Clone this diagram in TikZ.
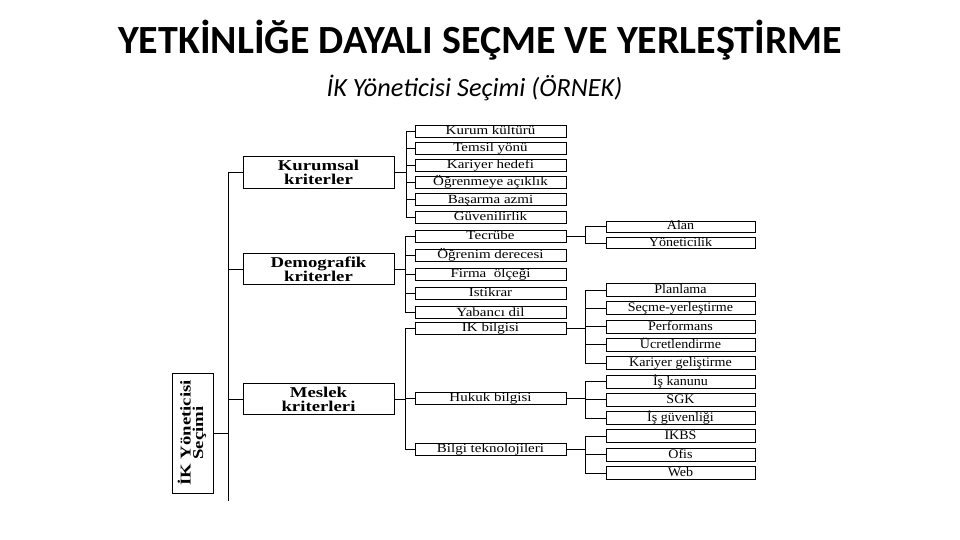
\documentclass[tikz,border=0pt]{standalone}
\usepackage{fontspec}
\setmainfont{Carlito}
\newfontfamily\diagfont[FakeStretch=1.25]{Liberation Serif}
\newfontfamily\itemfont[FakeStretch=1.2]{Liberation Serif}
\newfontfamily\subfont[FakeStretch=1.08]{Liberation Serif}
\usepackage{graphicx}
\usetikzlibrary{positioning}
\tikzset{
  rootbox/.style={
    draw=black, line width=1pt,
    minimum width=41pt, minimum height=120pt, inner sep=0pt,
    font=\diagfont\bfseries\fontsize{15}{14}\selectfont
  },
  catbox/.style={
    draw=black, line width=1pt,
    minimum width=151pt, minimum height=31pt, inner sep=0pt,
    align=center, font=\diagfont\bfseries\fontsize{15}{14}\selectfont
  },
  itembox/.style={
    draw=black, line width=0.9pt,
    minimum width=151pt, minimum height=12pt, inner sep=0pt,
    text height=9.4pt, text depth=2.6pt,
    font=\itemfont\fontsize{12.5}{13}\selectfont
  },
  subbox/.style={
    itembox, minimum width=149pt, minimum height=13pt,
    text height=10pt, text depth=3pt,
    font=\subfont\fontsize{13}{13}\selectfont
  },
  link/.style={draw=black, line width=0.9pt}
}

\begin{document}
\begin{tikzpicture}[x=1pt, y=-1pt]
  \useasboundingbox (0,0) rectangle (960,540);

  %% ---- Titles ----
  \node (title) at (480,40)
    {\bfseries\fontsize{40}{42}\selectfont YETKİNLİĞE DAYALI SEÇME VE YERLEŞTİRME};
  \node (subtitle) at (474.5,88)
    {\itshape\fontsize{26.3}{28}\selectfont İK Yöneticisi Seçimi (ÖRNEK)};

  %% ---- Root ----
  \node[rootbox] (root) at (192.5,433)
    {\rotatebox{90}{\begin{tabular}{@{}c@{}}İK Yöneticisi\\[-2pt]Seçimi\end{tabular}}};

  %% ---- Criteria ----
  \node[catbox] (kur) at (318.5,172.5) {Kurumsal\\kriterler};
  \node[catbox] (dem) at (318.5,269) {Demografik\\kriterler};
  \node[catbox] (mes) at (318.5,399) {Meslek\\kriterleri};

  %% ---- Kurumsal items ----
  \node[itembox] (k1) at (490.5,131) {Kurum kültürü};
  \node[itembox, below=4.3pt of k1] (k2) {Temsil yönü};
  \node[itembox, below=4.3pt of k2] (k3) {Kariyer hedefi};
  \node[itembox, below=4.3pt of k3] (k4) {Öğrenmeye açıklık};
  \node[itembox, below=4.3pt of k4] (k5) {Başarma azmi};
  \node[itembox, below=4.3pt of k5] (k6) {Güvenilirlik};

  %% ---- Demografik items ----
  \node[itembox] (d1) at (490.5,236) {Tecrübe};
  \node[itembox, below=6.25pt of d1] (d2) {Öğrenim derecesi};
  \node[itembox, below=6.25pt of d2] (d3) {Firma\ \ ölçeği};
  \node[itembox, below=6.25pt of d3] (d4) {Istikrar};
  \node[itembox, below=6.25pt of d4] (d5) {Yabancı dil};

  %% ---- Meslek items ----
  \node[itembox] (m1) at (490.5,328) {IK bilgisi};
  \node[itembox] (m2) at (490.5,398) {Hukuk bilgisi};
  \node[itembox] (m3) at (490.5,449) {Bilgi teknolojileri};

  %% ---- Tecrube details ----
  \node[subbox, minimum height=11pt, text height=8.6pt, text depth=2.4pt] (t1) at (680.5,226.5) {Alan};
  \node[subbox, minimum height=11pt, text height=8.6pt, text depth=2.4pt, below=5pt of t1] (t2) {Yöneticilik};

  %% ---- Knowledge details ----
  \node[subbox] (i1) at (680.5,290) {Planlama};
  \node[subbox, below=4.4pt of i1] (i2) {Seçme-yerleştirme};
  \node[subbox, below=4.4pt of i2] (i3) {Performans};
  \node[subbox, below=4.4pt of i3] (i4) {Ücretlendirme};
  \node[subbox, below=4.4pt of i4] (i5) {Kariyer geliştirme};
  \node[subbox, below=4.4pt of i5] (l1) {İş kanunu};
  \node[subbox, below=4.4pt of l1] (l2) {SGK};
  \node[subbox, below=4.4pt of l2] (l3) {İş güvenliği};
  \node[subbox, below=4.4pt of l3] (b1) {IKBS};
  \node[subbox, below=4.4pt of b1] (b2) {Ofis};
  \node[subbox, below=4.4pt of b2] (b3) {Web};

  %% Trunk
  \coordinate (trunk) at (228,172.5);
  \draw[link] (trunk) -- ++(0,328);
  \draw[link] (root.east) -- (root.east -| trunk);
  \foreach \n in {kur,dem,mes}
    \draw[link] (\n.west) -- (\n.west -| trunk);

  %% Second level
  \coordinate (kurJ) at ([xshift=12pt]kur.east);
  \draw[link] (kur.east) -- (kurJ);
  \draw[link] (k1.west) -- (k1.west -| kurJ) -- (k6.west -| kurJ) -- (k6.west);
  \foreach \n in {k2,k3,k4,k5}
    \draw[link] (\n.west) -- (\n.west -| kurJ);

  \coordinate (demJ) at ([xshift=11pt]dem.east);
  \draw[link] (dem.east) -- (demJ);
  \draw[link] (d1.west) -- (d1.west -| demJ) -- (d5.west -| demJ) -- (d5.west);
  \foreach \n in {d2,d3,d4}
    \draw[link] (\n.west) -- (\n.west -| demJ);

  \coordinate (mesJ) at ([xshift=11pt]mes.east);
  \draw[link] (mes.east) -- (mesJ);
  \draw[link] (m1.west) -- (m1.west -| mesJ) -- (m3.west -| mesJ) -- (m3.west);
  \draw[link] (m2.west) -- (m2.west -| mesJ);

  %% Third level
  \coordinate (tecJ) at ([xshift=19pt]d1.east);
  \draw[link] (d1.east) -- (tecJ);
  \draw[link] (t1.west) -- (t1.west -| tecJ) -- (t2.west -| tecJ) -- (t2.west);

  \coordinate (ikJ) at ([xshift=19pt]m1.east);
  \draw[link] (m1.east) -- (ikJ);
  \draw[link, line width=1.4pt] (i1.west -| ikJ) -- (i5.west -| ikJ);
  \foreach \n in {i1,i2,i3,i4,i5}
    \draw[link] (\n.west) -- (\n.west -| ikJ);

  \coordinate (hukJ) at ([xshift=19pt]m2.east);
  \draw[link] (m2.east) -- (hukJ);
  \draw[link] (l1.west) -- (l1.west -| hukJ) -- (l3.west -| hukJ) -- (l3.west);
  \draw[link] (l2.west) -- (l2.west -| hukJ);

  \coordinate (bilJ) at ([xshift=19pt]m3.east);
  \draw[link] (m3.east) -- (bilJ);
  \draw[link] (b1.west) -- (b1.west -| bilJ) -- (b3.west -| bilJ) -- (b3.west);
  \draw[link] (b2.west) -- (b2.west -| bilJ);

\end{tikzpicture}
\end{document}
